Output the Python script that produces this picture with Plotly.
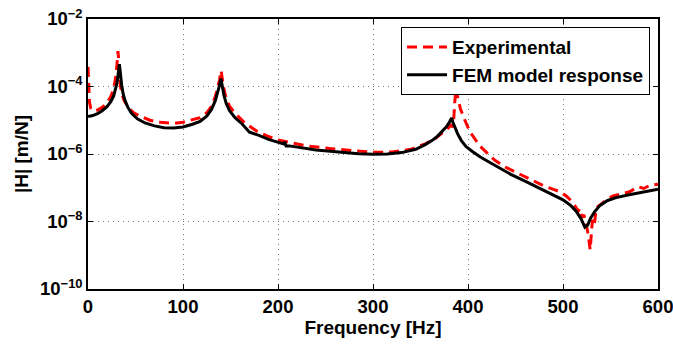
import plotly.graph_objects as go

# FEM model response
fem_f = [0, 5, 10, 15, 20, 24, 27, 29, 30.5, 31.5, 32.3, 33, 33.7, 34.5, 35.5, 37, 39, 42, 46, 52,
         60, 70, 80, 90, 100, 110, 118, 125, 130, 134, 136.5, 138.3, 139.3, 139.8, 140.5, 141.5,
         143, 145.5, 149, 155, 162, 170, 180, 190, 200, 205, 206, 207, 208.5, 212, 225, 240, 255,
         270, 285, 300, 315, 330, 345, 355, 362, 368, 373, 377, 380, 381.8, 382.8, 384, 386, 389,
         393, 398, 405, 413, 423, 433, 445, 460, 476, 490, 500, 508, 514, 519, 523, 526, 529, 533,
         539, 547, 556, 567, 581, 590, 600]
fem_h = [1.29e-5, 1.38e-5, 1.58e-5, 1.91e-5, 2.51e-5, 3.55e-5, 5.25e-5, 7.94e-5, 1.26e-4, 2.0e-4,
         3.31e-4, 4.57e-4, 3.16e-4, 1.78e-4, 1.05e-4, 6.03e-5, 3.8e-5, 2.4e-5, 1.58e-5, 1.1e-5,
         8.3e-6, 6.8e-6, 6.0e-6, 5.9e-6, 6.3e-6, 7.6e-6, 9.3e-6, 1.32e-5, 2.09e-5, 3.8e-5, 6.3e-5,
         1.05e-4, 1.45e-4, 1.7e-4, 1.41e-4, 9.5e-5, 5.6e-5, 3.16e-5, 1.91e-5, 1.17e-5, 7.9e-6,
         4.4e-6, 3.55e-6, 2.7e-6, 2.24e-6, 2.0e-6, 2.0e-6, 2.3e-6, 1.74e-6, 1.74e-6, 1.51e-6,
         1.32e-6, 1.2e-6, 1.1e-6, 1.02e-6, 9.8e-7, 1.0e-6, 1.1e-6, 1.38e-6, 1.9e-6, 2.5e-6, 3.4e-6,
         4.7e-6, 6.3e-6, 8.3e-6, 1.02e-5, 1.17e-5, 8.9e-6, 6.3e-6, 4.0e-6, 2.5e-6, 1.66e-6, 1.17e-6,
         8.1e-7, 5.6e-7, 3.8e-7, 2.5e-7, 1.58e-7, 9.5e-8, 6.3e-8, 4.4e-8, 3.0e-8, 2.0e-8, 1.2e-8,
         6.8e-9, 7.9e-9, 1.26e-8, 1.9e-8, 3.0e-8, 4.2e-8, 5.1e-8, 6.0e-8, 7.2e-8, 8.1e-8, 9.1e-8]

# Experimental
exp_f = [0, 0.7, 1.5, 3, 6, 10, 15, 20, 24, 27, 29, 30.5, 31.5, 32.2, 33, 34, 35.5, 38, 42, 48, 55,
         65, 76, 90, 100, 110, 118, 125, 130, 134, 136.5, 138.5, 139.5, 140.2, 141, 142.5, 145, 149,
         155, 165, 178, 190, 200, 215, 230, 255, 280, 300, 320, 340, 355, 365, 372, 378, 382, 384.5,
         386, 387.3, 389, 392, 396, 402, 413, 428, 440, 455, 468, 479, 490, 497, 504, 509, 513, 516,
         518, 520, 522, 524, 526, 527.5, 528.6, 530, 531, 533, 535, 537, 541, 546, 552, 558, 563,
         570, 579, 585, 592, 600]
exp_h = [3.8e-4, 1.0e-4, 3.5e-5, 2.2e-5, 1.9e-5, 2.0e-5, 2.4e-5, 3.3e-5, 5.0e-5, 8.9e-5, 1.78e-4,
         4.5e-4, 1.12e-3, 7.1e-4, 2.5e-4, 1.12e-4, 6.3e-5, 3.8e-5, 2.5e-5, 1.66e-5, 1.32e-5, 1.0e-5,
         8.7e-6, 8.1e-6, 8.7e-6, 1.02e-5, 1.2e-5, 1.66e-5, 2.6e-5, 5.0e-5, 8.9e-5, 1.58e-4, 2.4e-4,
         2.95e-4, 2.0e-4, 1.0e-4, 5.0e-5, 2.6e-5, 1.58e-5, 8.3e-6, 4.7e-6, 3.3e-6, 2.6e-6, 2.1e-6,
         1.74e-6, 1.45e-6, 1.23e-6, 1.12e-6, 1.15e-6, 1.38e-6, 2.0e-6, 2.8e-6, 4.0e-6, 5.4e-6,
         7.1e-6, 6.3e-6, 3.2e-5, 9.1e-5, 5.0e-5, 2.2e-5, 1.12e-5, 4.5e-6, 1.66e-6, 6.6e-7, 4.0e-7,
         2.5e-7, 1.58e-7, 1.17e-7, 8.9e-8, 7.6e-8, 5.5e-8, 4.0e-8, 2.8e-8, 2.0e-8, 2.4e-8, 1.32e-8,
         1.58e-8, 8.9e-9, 5.0e-9, 2.5e-9, 1.45e-9, 5.0e-9, 1.12e-8, 7.9e-9, 2.5e-8, 2.8e-8, 3.5e-8,
         4.4e-8, 5.6e-8, 6.3e-8, 6.9e-8, 7.6e-8, 1.07e-7, 9.5e-8, 1.2e-7, 1.26e-7]

x_ticks = [0, 100, 200, 300, 400, 500, 600]
y_ticks = [1e-10, 1e-8, 1e-6, 1e-4, 1e-2]
y_ticktext = ["10<sup>\u221210</sup>", "10<sup>\u22128</sup>", "10<sup>\u22126</sup>",
              "10<sup>\u22124</sup>", "10<sup>\u22122</sup>"]

FONT = "Liberation Sans, Arial, sans-serif"

fig = go.Figure()
fig.add_trace(go.Scatter(x=exp_f, y=exp_h, mode="lines", name="<b>Experimental</b>",
                         line=dict(color="#ff0000", width=3, dash="10px,6px")))
fig.add_trace(go.Scatter(x=fem_f, y=fem_h, mode="lines", name="<b>FEM model response</b>",
                         line=dict(color="#000000", width=3)))

axis_common = dict(showline=True, linecolor="black", linewidth=1.5, mirror="ticks",
                   ticks="inside", ticklen=5, tickcolor="black", automargin=False,
                   ticklabeloverflow="allow",
                   showgrid=True, gridcolor="#777777", gridwidth=1, griddash="1px,4px",
                   zeroline=False,
                   tickfont=dict(family=FONT, size=18.5, color="black"))

fig.update_xaxes(range=[0, 600], tickvals=x_ticks, ticktext=[f"<b>{v}</b>" for v in x_ticks],
                 title=dict(text="<b>Frequency [Hz]</b>", font=dict(family=FONT, size=19, color="black"),
                            standoff=2),
                 **axis_common)
fig.update_yaxes(type="log", range=[-10, -2], tickvals=y_ticks,
                 ticktext=[f"<b>{t}</b>" for t in y_ticktext],
                 title=dict(text="<b>|H| [m/N]</b>", font=dict(family=FONT, size=19, color="black"),
                            standoff=6),
                 **axis_common)

fig.update_layout(
    width=673, height=345,
    margin=dict(l=88, r=15, t=19, b=56),
    paper_bgcolor="white", plot_bgcolor="white",
    font=dict(family=FONT, color="black"),
    legend=dict(x=0.986, y=0.97, xanchor="right", yanchor="top",
                bgcolor="white", bordercolor="black", borderwidth=1,
                font=dict(family=FONT, size=19, color="black"),
                tracegroupgap=0, itemwidth=40),
    showlegend=True,
)

fig.write_html("out.html")
